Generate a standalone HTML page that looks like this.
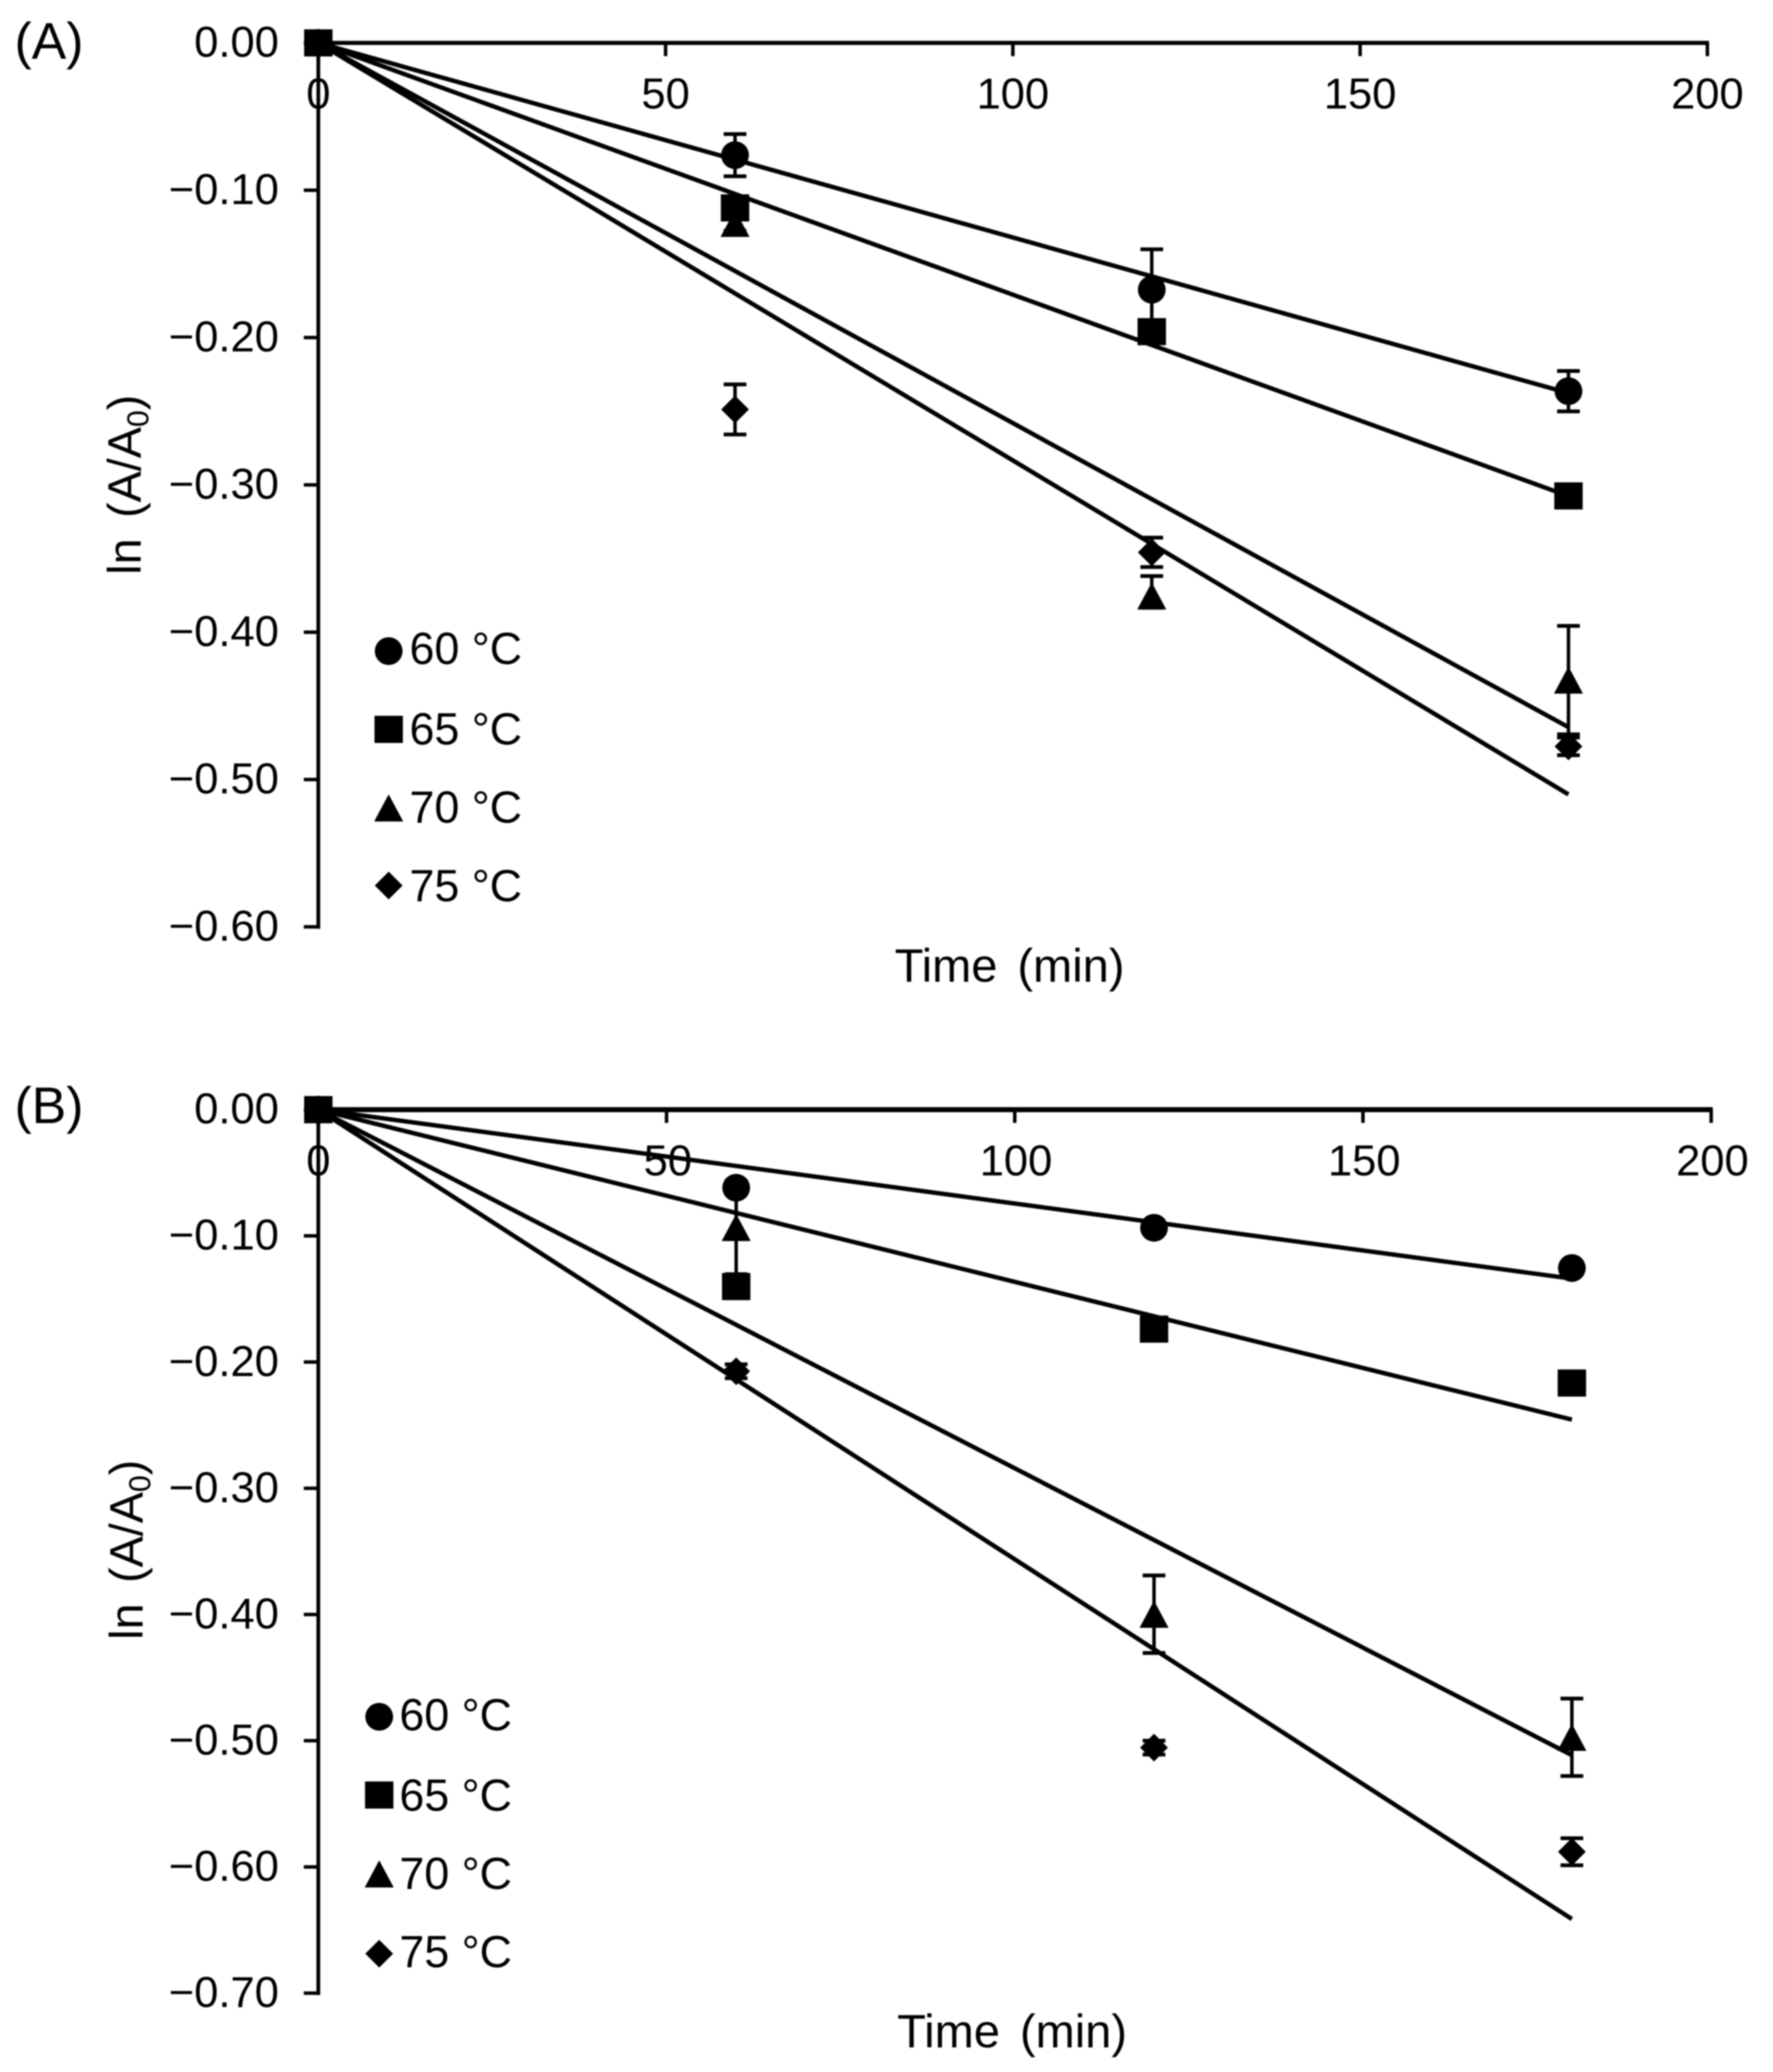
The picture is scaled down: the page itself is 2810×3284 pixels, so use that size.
<!DOCTYPE html>
<html lang="en">
<head>
<meta charset="utf-8">
<title>ln (A/A0) versus time at four temperatures</title>
<style>
html,body{margin:0;padding:0;background:#fff;}
svg{display:block;font-family:"Liberation Sans",Arial,sans-serif;fill:#000;filter:blur(1px);}
</style>
</head>
<body>
<svg id="figure" xmlns="http://www.w3.org/2000/svg" width="2810" height="3284" viewBox="0 0 2810 3284">
  <rect x="0" y="0" width="2810" height="3284" fill="#fff"/>
  <g id="panel-a">
    <text x="23" y="93" font-size="82">(A)</text>
    <text x="1418" y="1556" font-size="74.5">Time <tspan dx="11">(min)</tspan></text>
    <text transform="translate(223 911) rotate(-90)" font-size="74">ln <tspan dx="12">(A/A</tspan><tspan dy="12" font-size="48">0</tspan><tspan dy="-12">)</tspan></text>
  </g>
  <g id="panel-b">
    <text x="23" y="1780" font-size="82">(B)</text>
    <text x="1422" y="3245" font-size="74.5">Time <tspan dx="11">(min)</tspan></text>
    <text transform="translate(226 2599) rotate(-90)" font-size="74">ln <tspan dx="12">(A/A</tspan><tspan dy="12" font-size="48">0</tspan><tspan dy="-12">)</tspan></text>
  </g>
</svg>
<script>
// ---- shared data ----
const sampleTimes = [0, 60, 120, 180];
const fitTimes = [0, 180];
const xTickValues = [0, 50, 100, 150, 200];
const seriesNames = ['60 °C', '65 °C', '70 °C', '75 °C'];
const seriesKeys = ['60c', '65c', '70c', '75c'];
const seriesShapes = ['circle', 'square', 'triangle', 'diamond'];

// ---- panel A data ----
const aYTicks = [0, -0.1, -0.2, -0.3, -0.4, -0.5, -0.6];
const aValues60 = [0, -0.0762, -0.1675, -0.2364];
const aValues65 = [0, -0.112, -0.196, -0.3075];
const aValues70 = [0, -0.1225, -0.3754, -0.4325];
const aValues75 = [0, -0.2488, -0.3458, -0.4775];
const aErrorsUp60 = [0, 0.0143, 0.0274, 0.0137];
const aErrorsUp65 = [0, 0.004, 0.004, 0.004];
const aErrorsUp70 = [0, 0.005, 0.0135, 0.0368];
const aErrorsUp75 = [0, 0.017, 0.01, 0.006];
const aErrorsDown60 = [0, 0.0143, 0.0274, 0.0137];
const aErrorsDown65 = [0, 0.004, 0.004, 0.004];
const aErrorsDown70 = [0, 0.005, 0.008, 0.0368];
const aErrorsDown75 = [0, 0.017, 0.01, 0.006];
const aFit60 = [0, -0.2377];
const aFit65 = [0, -0.3076];
const aFit70 = [0, -0.4645];
const aFit75 = [0, -0.5101];

// ---- panel B data ----
const bYTicks = [0, -0.1, -0.2, -0.3, -0.4, -0.5, -0.6, -0.7];
const bValues60 = [0, -0.0619, -0.0936, -0.1255];
const bValues65 = [0, -0.1402, -0.1739, -0.2166];
const bValues70 = [0, -0.0934, -0.3998, -0.4973];
const bValues75 = [0, -0.2073, -0.5055, -0.588];
const bErrorsUp60 = [0, 0.004, 0.004, 0.004];
const bErrorsUp65 = [0, 0.004, 0.004, 0.004];
const bErrorsUp70 = [0, 0.037, 0.0307, 0.0307];
const bErrorsUp75 = [0, 0.0055, 0.0055, 0.0107];
const bErrorsDown60 = [0, 0.004, 0.004, 0.004];
const bErrorsDown65 = [0, 0.004, 0.004, 0.004];
const bErrorsDown70 = [0, 0.037, 0.0307, 0.0307];
const bErrorsDown75 = [0, 0.0055, 0.0055, 0.0107];
const bFit60 = [0, -0.1339];
const bFit65 = [0, -0.2456];
const bFit70 = [0, -0.5115];
const bFit75 = [0, -0.6413];

// ---- drawing ----
const NS = 'http://www.w3.org/2000/svg';

function make(parent, tag, attrs, text) {
  const el = document.createElementNS(NS, tag);
  for (const k in attrs) el.setAttribute(k, attrs[k]);
  if (text !== undefined) el.textContent = text;
  parent.appendChild(el);
  return el;
}

function seg(parent, x1, y1, x2, y2, w, name) {
  const el = make(parent, 'line', {x1: x1, y1: y1, x2: x2, y2: y2, stroke: '#000', 'stroke-width': w});
  
  
  return el;
}

function marker(parent, shape, cx, cy, name) {
  let el;
  if (shape === 'circle') {
    el = make(parent, 'ellipse', {cx: cx, cy: cy, rx: 22, ry: 22});
  } else if (shape === 'square') {
    el = make(parent, 'rect', {x: cx - 22.5, y: cy - 21.5, width: 45, height: 43});
  } else if (shape === 'triangle') {
    el = make(parent, 'polygon', {points: (cx) + ',' + (cy - 21.5) + ' ' + (cx + 23) + ',' + (cy + 21.5) + ' ' + (cx - 23) + ',' + (cy + 21.5)});
  } else {
    el = make(parent, 'polygon', {points: cx + ',' + (cy - 22) + ' ' + (cx + 22) + ',' + cy + ' ' + cx + ',' + (cy + 22) + ' ' + (cx - 22) + ',' + cy});
  }
  
  
  return el;
}

function drawPanel(p) {
  const g = document.getElementById(p.id);
  const sx = function (t) { return p.x0 + (t / 200) * (p.x200 - p.x0); };
  const sy = function (v) { return p.y0 + (-v / p.yMax) * (p.yEnd - p.y0); };

  // axes
  const yBottom = sy(p.yTicks[p.yTicks.length - 1]);
  seg(g, p.x0, p.y0, sx(200) + 2.5, p.y0, p.axisW, p.prefix + '-x-axis');
  seg(g, p.x0, p.y0, p.x0, yBottom + 3, 6, p.prefix + '-y-axis');

  xTickValues.forEach(function (t) {
    seg(g, sx(t), p.y0, sx(t), p.y0 + 21, 5.5, p.prefix + '-x-tick-' + t);
    const label = make(g, 'text', {x: sx(t) + (t === 0 ? 0 : p.labelDx), y: p.xLabelY, 'font-size': 69, 'text-anchor': 'middle'}, String(t));
    
    
  });

  p.yTicks.forEach(function (v) {
    seg(g, p.x0 - 23, sy(v), p.x0, sy(v), 5.5, p.prefix + '-y-tick-' + Math.abs(v).toFixed(2));
    const text = (v < 0 ? '\u2212' : '') + Math.abs(v).toFixed(2);
    const label = make(g, 'text', {x: 442, y: sy(v) + 22, 'font-size': 69, 'text-anchor': 'end'}, text);
    
    
  });

  // fitted trend lines
  p.fits.forEach(function (fit, i) {
    seg(g, sx(fitTimes[0]), sy(fit[0]), sx(fitTimes[1]), sy(fit[1]), 7, p.prefix + '-fit-line-' + seriesKeys[i]);
  });

  // series: drawn so the square ends up on top at the origin
  [0, 2, 3, 1].forEach(function (i) {
    const series = make(g, 'g', {});
    
    
    sampleTimes.forEach(function (t, j) {
      const v = p.values[i][j];
      const up = p.errorsUp[i][j];
      const down = p.errorsDown[i][j];
      if (up > 0) {
        const x = sx(t);
        const top = sy(v + up);
        const bottom = sy(v - down);
        seg(series, x, top, x, bottom, 5.5, p.prefix + '-error-stem-' + seriesKeys[i] + '-' + t);
        seg(series, x - 18, top, x + 18, top, 6, p.prefix + '-error-cap-top-' + seriesKeys[i] + '-' + t);
        seg(series, x - 18, bottom, x + 18, bottom, 6, p.prefix + '-error-cap-bottom-' + seriesKeys[i] + '-' + t);
      }
      marker(series, seriesShapes[i], sx(t), sy(v), p.prefix + '-point-' + seriesKeys[i] + '-' + t);
    });
  });

  // legend
  seriesNames.forEach(function (name, i) {
    const row = make(g, 'g', {});
    
    
    marker(row, seriesShapes[i], p.legendMarkerX, p.legendMarkerY[i], p.prefix + '-legend-marker-' + seriesKeys[i]);
    const label = make(row, 'text', {x: p.legendTextX, y: p.legendBaseY[i], 'font-size': 71}, name);
    
    
  });
}

drawPanel({
  id: 'panel-a', prefix: 'panel-a',
  x0: 504.5, x200: 2706, y0: 68, yEnd: 1469, yMax: 0.6, axisW: 6.5, xLabelY: 172, labelDx: 0,
  yTicks: aYTicks,
  values: [aValues60, aValues65, aValues70, aValues75],
  errorsUp: [aErrorsUp60, aErrorsUp65, aErrorsUp70, aErrorsUp75],
  errorsDown: [aErrorsDown60, aErrorsDown65, aErrorsDown70, aErrorsDown75],
  fits: [aFit60, aFit65, aFit70, aFit75],
  legendMarkerX: 616, legendTextX: 649,
  legendMarkerY: [1032, 1156, 1280.5, 1403.5],
  legendBaseY: [1052.5, 1180, 1304, 1428.5]
});

drawPanel({
  id: 'panel-b', prefix: 'panel-b',
  x0: 504.5, x200: 2712, y0: 1758.7, yEnd: 3159, yMax: 0.7, axisW: 8, xLabelY: 1863, labelDx: 2,
  yTicks: bYTicks,
  values: [bValues60, bValues65, bValues70, bValues75],
  errorsUp: [bErrorsUp60, bErrorsUp65, bErrorsUp70, bErrorsUp75],
  errorsDown: [bErrorsDown60, bErrorsDown65, bErrorsDown70, bErrorsDown75],
  fits: [bFit60, bFit65, bFit70, bFit75],
  legendMarkerX: 601, legendTextX: 633,
  legendMarkerY: [2721, 2845, 2970, 3096.5],
  legendBaseY: [2742.5, 2870, 2994, 3118]
});
</script>
</body>
</html>
